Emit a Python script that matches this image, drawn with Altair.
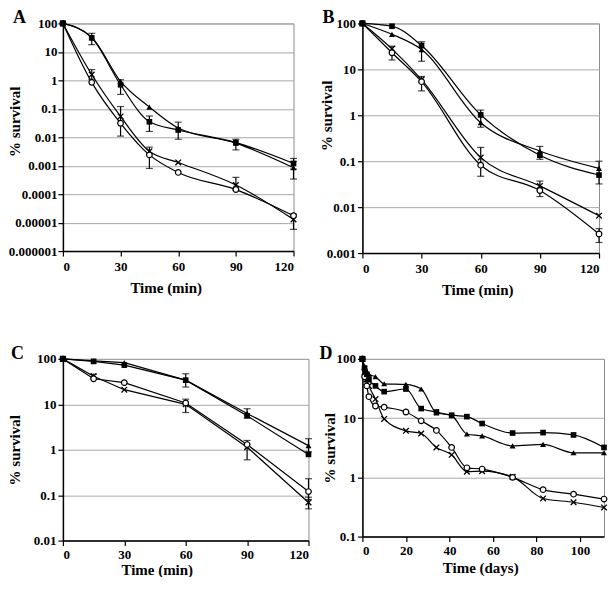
import altair as alt
import pandas as pd

# ---------------- data ----------------
MIN_T = [0, 15, 30, 45, 60, 90, 120]

A_square = [100, 31, 0.70, 0.035, 0.018, 0.0065, 0.0012]
A_triangle = [100, 33, 0.92, 0.115, 0.021, 0.0062, 0.00085]
A_circle = [100, 0.85, 0.031, 0.0024, 0.00058, 0.000145, 0.0000174]
A_cross = [100, 1.6, 0.054, 0.0032, 0.0013, 0.00021, 0.000013]
A_err_t = [15, 15, 30, 30, 45, 45, 60, 90, 90, 120, 120, 120]
A_err_lo = [18, 1.1, 0.32, 0.011, 0.016, 0.0008, 0.0085, 0.0036, 0.00014, 0.00076, 0.00034, 0.0000058]
A_err_hi = [45, 2.4, 1.05, 0.12, 0.056, 0.0045, 0.034, 0.0085, 0.00039, 0.0018, 0.0014, 0.00002]

B_T = [0, 15, 30, 60, 90, 120]
B_square = [100, 87, 33, 1.02, 0.135, 0.05]
B_triangle = [100, 58, 27, 0.69, 0.167, 0.07]
B_circle = [100, 23, 5.4, 0.082, 0.023, 0.0026]
B_cross = [100, 28, 6.0, 0.12, 0.029, 0.0065]
B_err_t = [15, 30, 30, 60, 60, 90, 90, 120, 120]
B_err_lo = [16, 15, 3.4, 0.55, 0.047, 0.11, 0.017, 0.032, 0.0017]
B_err_hi = [32, 40, 7.0, 1.3, 0.2, 0.21, 0.037, 0.1, 0.0034]

C_T = [0, 15, 30, 60, 90, 120]
C_square = [100, 88, 73, 34, 5.6, 0.79]
C_triangle = [100, 90, 83, 34, 6.3, 1.23]
C_circle = [100, 36.5, 30, 10.7, 1.3, 0.12]
C_cross = [100, 41.5, 21, 10, 1.14, 0.069]
C_err_t = [15, 60, 60, 90, 90, 120, 120, 120]
C_err_lo = [36, 24, 6.6, 5.0, 0.6, 0.9, 0.08, 0.05]
C_err_hi = [46, 47, 13, 8.0, 1.6, 1.75, 0.23, 0.09]

D_T = [0, 1, 2, 3, 6, 10, 20, 27, 34, 41, 48, 55, 69, 83, 97, 111]
D_square = [100, 70, 55, 45, 35, 28, 31, 14.5, 12.7, 11.2, 10.6, 8.1, 5.6, 5.7, 5.2, 3.2]
D_triangle = [100, 75, 62, 55, 50, 38, 37, 31, 12.3, 11.0, 5.4, 5.0, 3.4, 3.6, 2.6, 2.6]
D_circle = [100, 50, 35, 23, 16, 15.3, 12.7, 9.0, 6.2, 3.2, 1.45, 1.38, 1.0, 0.62, 0.52, 0.43]
D_cross = [100, 60, 45, 35, 21, 9.7, 6.1, 5.5, 3.2, 2.4, 1.25, 1.27, 1.02, 0.44, 0.38, 0.31]

FONT = "Liberation Serif"
CROSS = "M-1,-1L1,1M1,-1L-1,1"


def panel(letter, times, series, err, ydom, yvals, xdom, xvals, xtitle, w, h, interp,
          ytitle_x, ytitle_y, xtitle_x, letter_x, lab_pad, title_pad, ylab_pad=2):
    rows = []
    for name, vals in series.items():
        for t, v in zip(times, vals):
            rows.append({"t": t, "v": v, "s": name})
    df = pd.DataFrame(rows)
    xs = alt.Scale(domain=xdom, nice=False, zero=False)
    ys = alt.Scale(type="log", domain=ydom, nice=False)
    xenc = alt.X("t:Q", scale=xs, axis=alt.Axis(values=xvals, title=xtitle, grid=False,
                                               labelPadding=lab_pad, titlePadding=title_pad,
                                               titleX=xtitle_x))
    yenc = alt.Y("v:Q", scale=ys, axis=alt.Axis(values=yvals, title="% survival", grid=True,
                                               format="~g", titleX=ytitle_x, titleY=ytitle_y,
                                               labelPadding=ylab_pad))
    base = alt.Chart(df)
    layers = [base.mark_line(color="black", strokeWidth=1.2, interpolate=interp).encode(
        x=xenc, y=yenc, detail="s:N")]
    if err is not None:
        edf = pd.DataFrame({"t": err[0], "lo": err[1], "hi": err[2]})
        eb = alt.Chart(edf)
        layers.append(eb.mark_rule(color="black", strokeWidth=1.2).encode(
            x=alt.X("t:Q", scale=xs), y=alt.Y("lo:Q", scale=ys), y2="hi:Q"))
        for col in ["lo", "hi"]:
            layers.append(eb.mark_tick(color="black", orient="horizontal", size=7, thickness=1.2).encode(
                x=alt.X("t:Q", scale=xs), y=alt.Y(col + ":Q", scale=ys)))
    styles = {
        "square": dict(shape="square", filled=True, color="black", size=32),
        "triangle": dict(shape="triangle-up", filled=True, color="black", size=36),
        "circle": dict(shape="circle", filled=True, fill="white", stroke="black", strokeWidth=1.2, size=32),
        "cross": dict(shape=CROSS, filled=False, stroke="black", strokeWidth=1.3, size=32),
    }
    for name in ["cross", "circle", "triangle", "square"]:
        layers.append(base.transform_filter(alt.datum.s == name).mark_point(opacity=1, **styles[name]).encode(
            x=alt.X("t:Q", scale=xs), y=alt.Y("v:Q", scale=ys)))
    ldf = pd.DataFrame({"l": [letter]})
    layers.append(alt.Chart(ldf).mark_text(font=FONT, fontWeight="bold", fontSize=18, align="left",
                                           baseline="top", color="black").encode(
        text="l:N", x=alt.value(letter_x), y=alt.value(-14)))
    return alt.layer(*layers).properties(width=w, height=h)


pA = panel("A", MIN_T, {"square": A_square, "triangle": A_triangle, "circle": A_circle, "cross": A_cross},
           (A_err_t, A_err_lo, A_err_hi), [1e-6, 100], [1e-6, 1e-5, 1e-4, 1e-3, 0.01, 0.1, 1, 10, 100],
           [0, 120], [0, 30, 60, 90, 120], "Time (min)", 231, 228, "monotone",
           -40, 98, 103, -50, 4, 8, ylab_pad=1)
pB = panel("B", B_T, {"square": B_square, "triangle": B_triangle, "circle": B_circle, "cross": B_cross},
           (B_err_t, B_err_lo, B_err_hi), [1e-3, 100], [1e-3, 0.01, 0.1, 1, 10, 100],
           [0, 120], [0, 30, 60, 90, 120], "Time (min)", 237, 230, "monotone",
           -28, 92, 115, -40, 4, 8)
pC = panel("C", C_T, {"square": C_square, "triangle": C_triangle, "circle": C_circle, "cross": C_cross},
           (C_err_t, C_err_lo, C_err_hi), [0.01, 100], [0.01, 0.1, 1, 10, 100],
           [0, 120], [0, 30, 60, 90, 120], "Time (min)", 246, 182, "linear",
           -40, 91, 94, -52, 3, 1)
pD = panel("D", D_T, {"square": D_square, "triangle": D_triangle, "circle": D_circle, "cross": D_cross},
           None, [0.1, 100], [0.1, 1, 10, 100],
           [0, 111], [0, 20, 40, 60, 80, 100], "Time (days)", 242, 178, "monotone",
           -25, 89, 118, -43, 3, 3)

chart = alt.concat(
    pA, pB, pC, pD,
    columns=2, bounds="flush",
    spacing={"row": 106, "column": 54},
).resolve_scale(x="independent", y="independent").properties(
    padding={"left": -1, "top": 0, "right": -2, "bottom": -2}
).configure(font=FONT).configure_view(stroke="#8c8c8c", strokeWidth=1).configure_axis(
    labelFont=FONT, labelFontWeight="bold", labelFontSize=13, labelColor="black",
    titleFont=FONT, titleFontWeight="bold", titleFontSize=15, titleColor="black",
    domainColor="black", domainWidth=1.5, tickColor="black", tickSize=5, tickWidth=1.2,
    gridColor="#a8a8a8", gridWidth=1
)

chart.save("out.html", embed_options={"renderer": "svg", "actions": False})
